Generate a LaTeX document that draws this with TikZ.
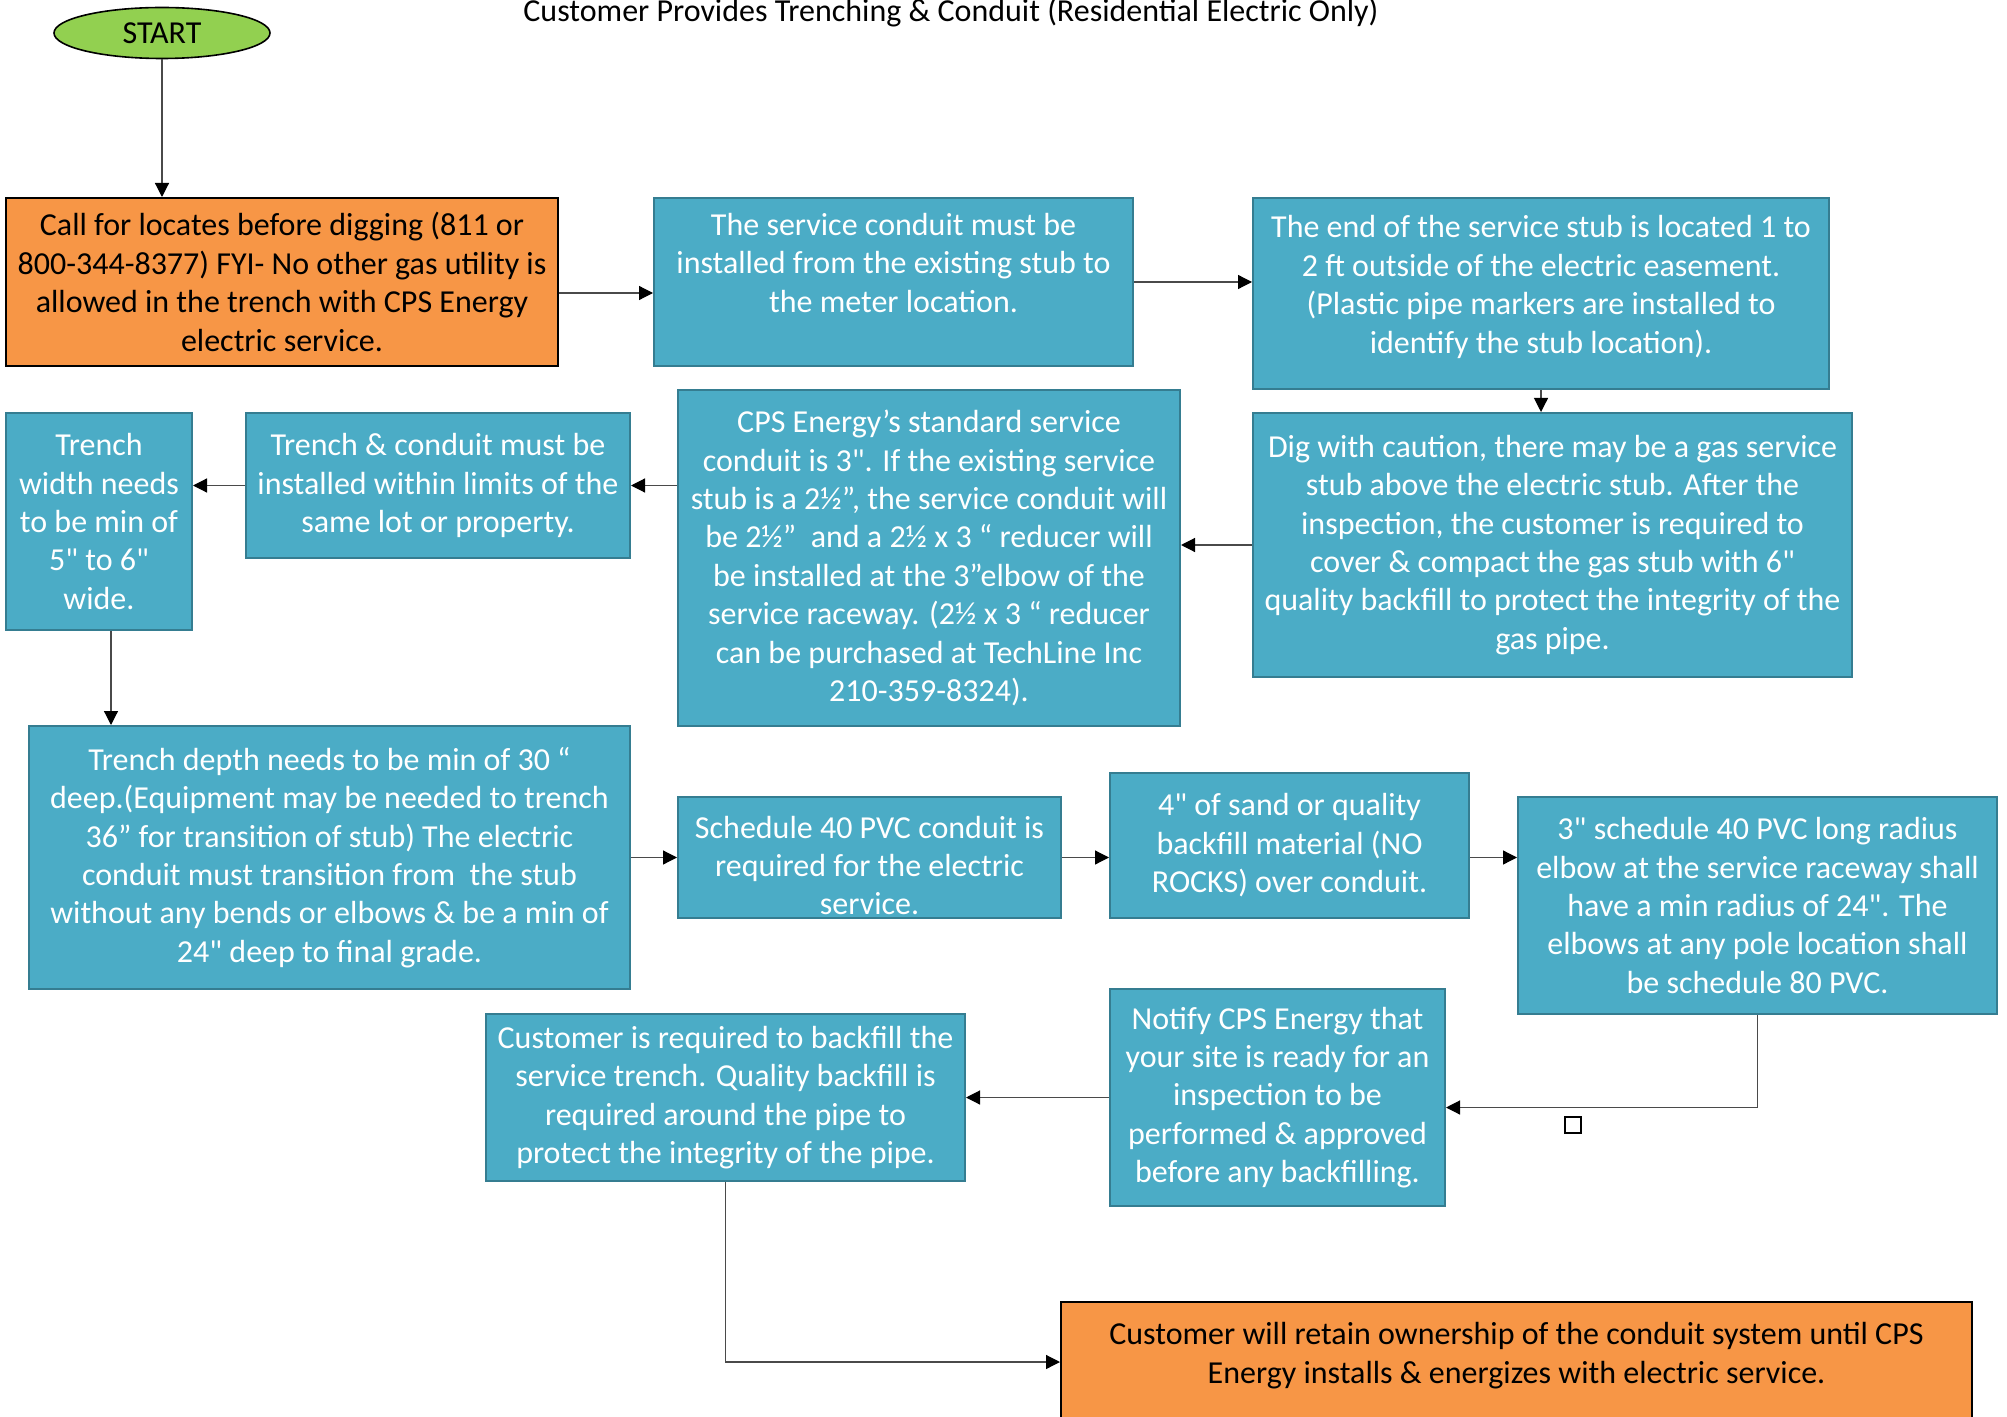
\documentclass[tikz,border=0pt]{standalone}
\usepackage{fontspec}
\setmainfont{Carlito}[Ligatures=TeXOff]
\usetikzlibrary{shapes.geometric, arrows.meta}

\definecolor{boxteal}{HTML}{4BACC6}
\definecolor{boxedge}{HTML}{357D91}
\definecolor{boxorange}{HTML}{F79646}
\definecolor{startgreen}{HTML}{92D050}
\definecolor{linegray}{HTML}{4A4A4A}

\tikzset{
  stepteal/.style={rectangle, draw=boxedge, fill=boxteal, line width=1pt, text=white, align=center, inner sep=0pt, font=\fontsize{16}{19.2}\selectfont},
  steporange/.style={stepteal, draw=black, fill=boxorange, text=black},
  flow/.style={->, draw=linegray, line width=0.6pt}
}

\begin{document}
\begin{tikzpicture}[>={Triangle[length=7pt,width=7pt,color=black]}, x=0.5pt, y=-0.5pt]
\useasboundingbox (0,0) rectangle (2007,1417);
\node[font=\fontsize{16}{19.2}\selectfont] (title) at (951,13) {Customer Provides Trenching \& Conduit (Residential Electric Only)};
\node[ellipse, draw=black, fill=startgreen, line width=0.8pt, minimum width=108pt, minimum height=25.5pt, inner sep=0pt, font=\fontsize{16}{19.2}\selectfont] (start) at (162,33) {START};
\node[steporange, minimum width=276pt, minimum height=84pt] (callbox) at (282,282) {Call for locates before digging (811 or\\800-344-8377) FYI- No other gas utility is\\allowed in the trench with CPS Energy\\electric service.};
\node[stepteal, minimum width=239.5pt, minimum height=84pt] (conduitbox) at (893.5,282) {The service conduit must be\\installed from the existing stub to\\the meter location.\\\mbox{}};
\node[stepteal, minimum width=288pt, minimum height=95.5pt] (stubend) at (1541,293.5) {The end of the service stub is located 1 to\\2 ft outside of the electric easement.\\(Plastic pipe markers are installed to\\identify the stub location).\\[-10pt]\mbox{}};
\node[stepteal, minimum width=299.5pt, minimum height=132pt] (digbox) at (1552.5,545) {Dig with caution, there may be a gas service\\stub above the electric stub. After the\\inspection, the customer is required to\\cover \& compact the gas stub with 6"\\quality backfill to protect the integrity of the\\gas pipe.};
\node[stepteal, minimum width=251pt, minimum height=168pt] (stdconduit) at (929,558) {CPS Energy’s standard service\\conduit is 3". If the existing service\\stub is a 2½”, the service conduit will\\be 2½”\ \ and a 2½ x 3 “ reducer will\\be installed at the 3”elbow of the\\service raceway. (2½ x 3 “ reducer\\can be purchased at TechLine Inc\\210-359-8324).};
\node[stepteal, minimum width=192pt, minimum height=72.5pt] (limits) at (438,485.5) {Trench \& conduit must be\\installed within limits of the\\same lot or property.};
\node[stepteal, minimum width=93pt, minimum height=108.5pt] (trenchwidth) at (99,521.5) {Trench\\width needs\\to be min of\\5" to 6"\\wide.};
\node[stepteal, minimum width=300.5pt, minimum height=131.5pt] (trenchdepth) at (329.5,857.5) {Trench depth needs to be min of 30 “\\deep.(Equipment may be needed to trench\\36” for transition of stub) The electric\\conduit must transition from\ \ the stub\\without any bends or elbows \& be a min of\\24" deep to final grade.};
\node[stepteal, minimum width=191.5pt, minimum height=60.5pt] (pvcsched) at (869.5,857.5) {\mbox{}\\Schedule 40 PVC conduit is\\required for the electric\\service.};
\node[stepteal, minimum width=179.5pt, minimum height=72.5pt] (sandfill) at (1289.5,845.5) {4" of sand or quality\\backfill material (NO\\ROCKS) over conduit.};
\node[stepteal, minimum width=239.5pt, minimum height=108.5pt] (elbowbox) at (1757.5,905.5) {3" schedule 40 PVC long radius\\elbow at the service raceway shall\\have a min radius of 24". The\\elbows at any pole location shall\\be schedule 80 PVC.};
\node[stepteal, minimum width=167.5pt, minimum height=108.5pt] (notify) at (1277.5,1097.5) {Notify CPS Energy that\\your site is ready for an\\inspection to be\\performed \& approved\\before any backfilling.};
\node[stepteal, minimum width=239.5pt, minimum height=83.5pt] (backfill) at (725.5,1097.5) {Customer is required to backfill the\\service trench. Quality backfill is\\required around the pipe to\\protect the integrity of the pipe.};
\node[steporange, minimum width=455.5pt, minimum height=60pt] (retain) at (1516.5,1362) {Customer will retain ownership of the conduit system until CPS\\Energy installs \& energizes with electric service.\\[-10pt]\mbox{}};
\node[draw=black, line width=0.7pt, minimum size=8pt, inner sep=0pt] (marker) at (1573,1125) {};
% connectors
\draw[flow] (start.south) -- (start.south |- callbox.north);
\draw[flow] ([yshift=-5.5pt]callbox.east) -- ([yshift=-5.5pt]callbox.east -| conduitbox.west);
\draw[flow] (conduitbox.east) -- (conduitbox.east -| stubend.west);
\draw[flow] (stubend.south) -- (stubend.south |- digbox.north);
\draw[flow] (digbox.west) -- (digbox.west -| stdconduit.east);
\draw[flow] (limits.east -| stdconduit.west) -- (limits.east);
\draw[flow] (limits.west) -- (limits.west -| trenchwidth.east);
\draw[flow] ([xshift=6pt]trenchwidth.south) -- ([xshift=6pt]trenchwidth.south |- trenchdepth.north);
\draw[flow] (trenchdepth.east) -- (pvcsched.west);
\draw[flow] (pvcsched.east) -- (pvcsched.east -| sandfill.west);
\draw[flow] (pvcsched.east -| sandfill.east) -- (pvcsched.east -| elbowbox.west);
\draw[flow] (elbowbox.south) |- ([yshift=-5pt]notify.east);
\draw[flow] (notify.west) -- (backfill.east);
\draw[flow] (backfill.south) |- (retain.west);
\end{tikzpicture}
\end{document}
